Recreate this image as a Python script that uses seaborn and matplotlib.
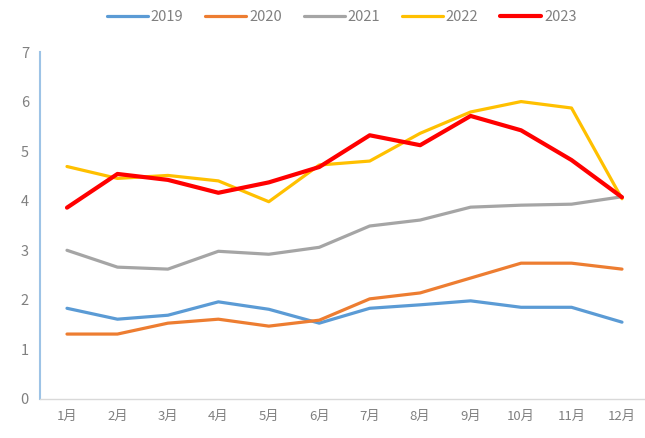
import matplotlib
matplotlib.use("Agg")
import matplotlib.pyplot as plt
import seaborn as sns
import pandas as pd

months = ["1月", "2月", "3月", "4月", "5月", "6月", "7月", "8月", "9月", "10月", "11月", "12月"]
years = ["2019", "2020", "2021", "2022", "2023"]
v2019 = [1.83, 1.61, 1.69, 1.96, 1.81, 1.53, 1.83, 1.90, 1.98, 1.85, 1.85, 1.55]
v2020 = [1.31, 1.31, 1.53, 1.61, 1.47, 1.59, 2.02, 2.14, 2.44, 2.74, 2.74, 2.62]
v2021 = [3.00, 2.66, 2.62, 2.98, 2.92, 3.06, 3.49, 3.61, 3.87, 3.91, 3.93, 4.08]
v2022 = [4.69, 4.45, 4.51, 4.40, 3.98, 4.72, 4.80, 5.36, 5.79, 6.00, 5.87, 4.04]
v2023 = [3.86, 4.54, 4.42, 4.16, 4.37, 4.68, 5.32, 5.12, 5.71, 5.42, 4.82, 4.07]
series = [v2019, v2020, v2021, v2022, v2023]

colors = ["#5B9BD5", "#ED7D31", "#A5A5A5", "#FFC000", "#FF0000"]
widths = [2.3, 2.3, 2.3, 2.3, 3.0]

df = pd.DataFrame({
    "month": months * len(years),
    "year": [y for y in years for _ in months],
    "value": [v for s in series for v in s],
})

sns.set_style("white")
plt.rcParams["font.family"] = ["Noto Sans CJK SC", "DejaVu Sans"]

fig = plt.figure(figsize=(6.45, 4.38), dpi=100)
ax = fig.add_axes([40 / 645, 1 - 399 / 438, 605 / 645, 347 / 438])

for yr, col, lw in zip(years, colors, widths):
    sns.lineplot(data=df[df["year"] == yr], x="month", y="value", color=col,
                 linewidth=lw, ax=ax, label=yr, sort=False)

ax.set_xlim(-0.535, 11.456)
ax.set_ylim(0, 7)
ax.set_yticks(range(0, 8))
ax.set_xlabel("")
ax.set_ylabel("")

for side in ["top", "right"]:
    ax.spines[side].set_visible(False)
ax.spines["left"].set_color("#9DC3E6")
ax.spines["left"].set_linewidth(1.5)
ax.spines["bottom"].set_color("#D9D9D9")
ax.spines["bottom"].set_linewidth(1.0)

ax.tick_params(axis="y", direction="out", length=4, width=1, color="#A0A0A0",
               labelcolor="#808080", labelsize=10.5, pad=4)
ax.tick_params(axis="x", length=0, labelcolor="#808080", labelsize=9.5, pad=8)

handles, labels = ax.get_legend_handles_labels()
ax.get_legend().remove()
leg = fig.legend(handles, labels, loc="center", bbox_to_anchor=(0.53, 0.962), ncol=5,
                 frameon=False, fontsize=10.5, handlelength=2.8, handletextpad=0.2,
                 columnspacing=1.5)
for t in leg.get_texts():
    t.set_color("#808080")

fig.savefig("out.png", dpi=100)
